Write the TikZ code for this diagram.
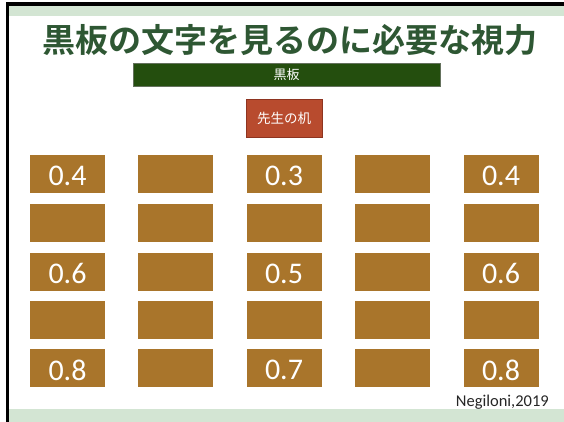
\documentclass[tikz,border=0pt]{standalone}
\usepackage{fontspec}
\setmainfont{Carlito}
\newfontfamily\jpfont{Noto Sans CJK JP}
\newfontfamily\jpbold{Noto Sans CJK JP Bold}
\definecolor{band}{HTML}{D3E5D3}
\definecolor{titlegreen}{HTML}{2E5733}
\definecolor{boardgreen}{HTML}{244E0E}
\definecolor{deskbrown}{HTML}{A9752B}
\definecolor{teachred}{HTML}{B84B2E}
\definecolor{teachborder}{HTML}{8E3420}
\tikzset{
  desk/.style={fill=deskbrown,draw=none,minimum width=75pt,minimum height=38pt,inner sep=0pt,
    text=white,font=\fontsize{30}{30}\selectfont},
  desklabel/.style={inner sep=0pt,text=white,font=\fontsize{30}{30}\selectfont,yshift=-2pt},
}
\begin{document}
\begin{tikzpicture}[x=1pt,y=-1pt]
\useasboundingbox (0,0) rectangle (564,422);
\fill[white] (0,0) rectangle (564,422);
% bands
\fill[band] (8,6) rectangle (564,16);
\fill[band] (8,409) rectangle (564,422);
% frame lines
\fill[black] (6,2.5) rectangle (564,6);
\fill[black] (6,2.5) rectangle (8.5,422);
% title
\node[text=titlegreen,font=\jpbold\fontsize{33}{33}\selectfont,inner sep=0pt] (title) at (290,40) {黒板の文字を見るのに必要な視力};
% blackboard
\node[fill=boardgreen,draw=gray!70!boardgreen,line width=0.6pt,minimum width=307pt,minimum height=23pt,inner sep=0pt,
  text=white,font=\jpfont\fontsize{13}{13}\selectfont] (board) at (286.5,74.5) {黒板};
% teacher desk
\node[fill=teachred,draw=teachborder,line width=0.8pt,minimum width=76pt,minimum height=38pt,inner sep=0pt,
  text=white,font=\jpfont\fontsize{13.5}{13.5}\selectfont] (teacher) at (284,118) {先生の机};
% desks
\foreach \c/\x in {1/67.5,2/175.5,3/284,4/392.5,5/501}{
  \foreach \r/\y in {1/174,2/223,3/271.5,4/319.5,5/368}{
    \node[desk] (d\c\r) at (\x,\y) {};
  }
}
\node[desklabel] (l11) at (d11) {0.4};
\node[desklabel] (l31) at (d31) {0.3};
\node[desklabel] (l51) at (d51) {0.4};
\node[desklabel] (l13) at (d13) {0.6};
\node[desklabel] (l33) at (d33) {0.5};
\node[desklabel] (l53) at (d53) {0.6};
\node[desklabel] (l15) at (d15) {0.8};
\node[desklabel] (l35) at (d35) {0.7};
\node[desklabel] (l55) at (d55) {0.8};
\node[font=\fontsize{16.5}{16.5}\selectfont,text=black!85,inner sep=0pt,anchor=east] (cite) at (549,402) {Negiloni,2019};
\end{tikzpicture}
\end{document}
